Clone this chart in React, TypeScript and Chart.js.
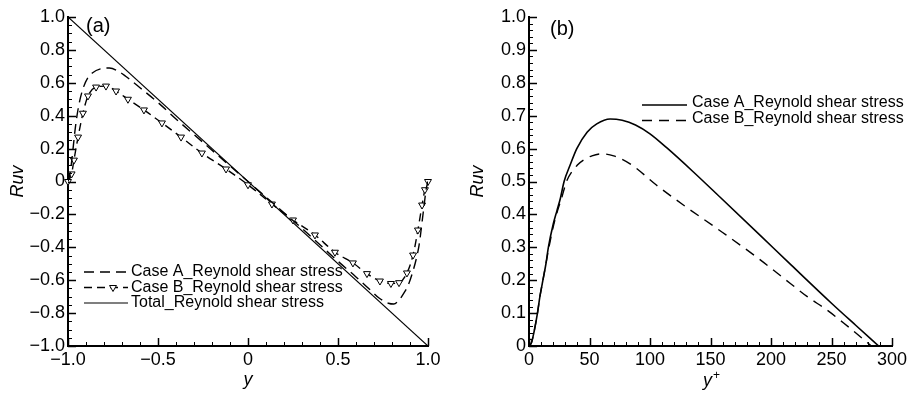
import React, { useEffect, useRef } from "react";
import { Chart, registerables } from "chart.js";

Chart.register(...registerables);

const FONT = "'Liberation Sans', Arial, Helvetica, sans-serif";

// ---------------- Panel (a): Ruv versus y ----------------
const aTotalY = [-1.0, 1.0];
const aTotalRuv = [1.0, -1.0];

const aCaseAY = [
  -1, -0.99, -0.98, -0.97, -0.96, -0.95, -0.935, -0.915, -0.89, -0.865, -0.82, -0.77,
  -0.72, -0.68, -0.6, -0.5, -0.4, -0.3, -0.2, -0.1, 0, 0.1, 0.2, 0.3, 0.4, 0.5, 0.6,
  0.68, 0.73, 0.78, 0.81, 0.84, 0.865, 0.89, 0.915, 0.935, 0.95, 0.96, 0.97, 0.98, 0.99, 1,
];
const aCaseARuv = [
  0, 0.04, 0.12, 0.22, 0.32, 0.4, 0.49, 0.57, 0.63, 0.66, 0.685, 0.69,
  0.67, 0.64, 0.57, 0.48, 0.38, 0.285, 0.19, 0.095, 0, -0.095, -0.19, -0.285, -0.385, -0.485, -0.58,
  -0.66, -0.71, -0.74, -0.745, -0.72, -0.68, -0.63, -0.55, -0.47, -0.39, -0.31, -0.22, -0.13, -0.045, 0,
];

const aCaseBY = [
  -1.0, -0.98, -0.967, -0.944, -0.917, -0.889, -0.844, -0.789, -0.733, -0.667, -0.578,
  -0.478, -0.372, -0.256, -0.122, 0.0, 0.133, 0.25, 0.372, 0.483, 0.583, 0.661, 0.733,
  0.794, 0.839, 0.883, 0.917, 0.944, 0.967, 0.983, 1.0,
];
const aCaseBRuv = [
  0.0, 0.046, 0.13, 0.27, 0.415, 0.52, 0.574, 0.58, 0.55, 0.5, 0.435,
  0.356, 0.27, 0.173, 0.076, -0.02, -0.137, -0.234, -0.325, -0.43, -0.495, -0.56, -0.605,
  -0.62, -0.615, -0.556, -0.447, -0.295, -0.143, -0.05, 0.0,
];

const aXTickValues = [-1, -0.5, 0, 0.5, 1];
const aXTickLabels = ["\u22121.0", "\u22120.5", "0", "0.5", "1.0"];
const aYTickValues = [-1, -0.8, -0.6, -0.4, -0.2, 0, 0.2, 0.4, 0.6, 0.8, 1];
const aYTickLabels = [
  "\u22121.0", "\u22120.8", "\u22120.6", "\u22120.4", "\u22120.2", "0",
  "0.2", "0.4", "0.6", "0.8", "1.0",
];
const aLegendLabels = [
  "Case A_Reynold shear stress",
  "Case B_Reynold shear stress",
  "Total_Reynold shear stress",
];

// ---------------- Panel (b): Ruv versus y+ ----------------
const bCaseAYPlus = [
  0, 2, 4, 7, 9, 11.5, 14, 16, 20, 23, 26, 29, 34, 39.5, 48, 56, 67, 77, 88, 100, 114,
  135, 158, 190, 217, 250, 270, 289,
];
const bCaseARuv = [
  0, 0.01, 0.04, 0.1, 0.15, 0.2, 0.25, 0.3, 0.37, 0.41, 0.45, 0.5, 0.55, 0.6, 0.65,
  0.675, 0.69, 0.686, 0.672, 0.645, 0.602, 0.532, 0.452, 0.34, 0.245, 0.13, 0.063, 0,
];
const bCaseBYPlus = [
  0, 2, 4, 7, 9, 11.5, 14, 16.5, 20.5, 23.5, 27, 31, 40, 45, 52, 60, 70, 85, 105, 127,
  160, 190, 216, 230, 246, 260, 283,
];
const bCaseBRuv = [
  0, 0.01, 0.04, 0.1, 0.15, 0.2, 0.25, 0.3, 0.37, 0.41, 0.45, 0.5, 0.55, 0.565, 0.578,
  0.584, 0.578, 0.55, 0.49, 0.43, 0.345, 0.265, 0.19, 0.15, 0.11, 0.07, 0.0,
];

const bXTickValues = [0, 50, 100, 150, 200, 250, 300];
const bXTickLabels = ["0", "50", "100", "150", "200", "250", "300"];
const bYTickValues = [0, 0.1, 0.2, 0.3, 0.4, 0.5, 0.6, 0.7, 0.8, 0.9, 1.0];
const bYTickLabels = ["0", "0.1", "0.2", "0.3", "0.4", "0.5", "0.6", "0.7", "0.8", "0.9", "1.0"];
const bLegendLabels = ["Case A_Reynold shear stress", "Case B_Reynold shear stress"];

// ---------------- helpers ----------------
const toXY = (xs: number[], ys: number[]) => xs.map((x, i) => ({ x, y: ys[i] }));

function drawScaleTicks(
  ctx: CanvasRenderingContext2D,
  scale: any,
  horizontal: boolean,
  area: any,
  minorStep: number,
  majorStep: number
) {
  const n = Math.round((scale.max - scale.min) / minorStep);
  for (let i = 0; i <= n; i++) {
    const v = scale.min + i * minorStep;
    const r = v / majorStep;
    const major = Math.abs(r - Math.round(r)) < 1e-6;
    const len = major ? 8 : 4;
    ctx.lineWidth = major ? 1.5 : 1;
    const p = Math.round(scale.getPixelForValue(v)) + 0.5;
    ctx.beginPath();
    if (horizontal) {
      ctx.moveTo(p, area.bottom);
      ctx.lineTo(p, area.bottom - len);
    } else {
      ctx.moveTo(area.left, p);
      ctx.lineTo(area.left + len, p);
    }
    ctx.stroke();
  }
}

function drawDownTriangle(ctx: CanvasRenderingContext2D, x: number, y: number, r: number) {
  ctx.save();
  ctx.setLineDash([]);
  ctx.lineWidth = 1;
  ctx.fillStyle = "#fff";
  ctx.strokeStyle = "#000";
  ctx.beginPath();
  ctx.moveTo(x, y + r);
  ctx.lineTo(x - r * 0.866, y - r * 0.5);
  ctx.lineTo(x + r * 0.866, y - r * 0.5);
  ctx.closePath();
  ctx.fill();
  ctx.stroke();
  ctx.restore();
}

const overlayPlugin = {
  id: "overlay",
  afterDraw(chart: any, _args: any, opts: any) {
    const ctx: CanvasRenderingContext2D = chart.ctx;
    const area = chart.chartArea;
    ctx.save();
    ctx.strokeStyle = "#000";
    ctx.fillStyle = "#000";
    drawScaleTicks(ctx, chart.scales.x, true, area, opts.xMinor, opts.xMajor);
    drawScaleTicks(ctx, chart.scales.y, false, area, opts.yMinor, opts.yMajor);

    // panel label
    ctx.font = `20px ${FONT}`;
    ctx.textAlign = "left";
    ctx.textBaseline = "middle";
    ctx.fillText(opts.panelLabel, opts.panelX, opts.panelY);

    // legend
    const lg = opts.legend;
    ctx.font = `16px ${FONT}`;
    chart.data.datasets.forEach((ds: any, i: number) => {
      const y = lg.y + i * lg.dy;
      ctx.save();
      ctx.lineWidth = ds.borderWidth;
      ctx.strokeStyle = "#000";
      ctx.setLineDash(ds.borderDash || []);
      ctx.beginPath();
      ctx.moveTo(lg.x0, y + lg.lineOffset);
      ctx.lineTo(lg.x1, y + lg.lineOffset);
      ctx.stroke();
      ctx.restore();
      if (ds.pointRadius > 0) {
        drawDownTriangle(ctx, lg.markerX, y + lg.lineOffset, ds.pointRadius);
      }
      ctx.fillStyle = "#000";
      ctx.textBaseline = "middle";
      ctx.fillText(ds.label, lg.textX, y);
    });

    // custom x title (with superscript)
    if (opts.xTitle) {
      const t = opts.xTitle;
      ctx.font = `italic 18px ${FONT}`;
      ctx.textBaseline = "middle";
      ctx.fillText(t.main, t.x, t.y);
      const w = ctx.measureText(t.main).width;
      ctx.font = `12px ${FONT}`;
      ctx.fillText(t.sup, t.x + w + 1, t.y - 5);
    }
    ctx.restore();
  },
};

function makeScale(
  min: number,
  max: number,
  values: number[],
  labels: string[],
  horizontal: boolean,
  size: number,
  title: any
) {
  return {
    type: "linear",
    min,
    max,
    afterBuildTicks: (s: any) => {
      s.ticks = values.map((v) => ({ value: v }));
    },
    afterFit: (s: any) => {
      if (horizontal) s.height = size;
      else s.width = size;
    },
    ticks: {
      callback: (_v: any, i: number) => labels[i],
      font: { family: FONT, size: 18 },
      color: "#000",
      padding: 3,
      maxRotation: 0,
      minRotation: 0,
      autoSkip: false,
    },
    grid: { display: false, drawTicks: false },
    border: { display: true, color: "#000", width: 2 },
    title,
  };
}

function configA(): any {
  return {
    type: "scatter",
    data: {
      datasets: [
        {
          label: aLegendLabels[0],
          data: toXY(aCaseAY, aCaseARuv),
          showLine: true,
          borderColor: "#000",
          borderWidth: 1.4,
          borderDash: [10, 6],
          pointRadius: 0,
          cubicInterpolationMode: "monotone",
        },
        {
          label: aLegendLabels[1],
          data: toXY(aCaseBY, aCaseBRuv),
          showLine: true,
          borderColor: "#000",
          borderWidth: 1.4,
          borderDash: [8, 5],
          pointStyle: "triangle",
          rotation: 180,
          pointRadius: 4,
          pointBackgroundColor: "#fff",
          pointBorderColor: "#000",
          pointBorderWidth: 1,
          cubicInterpolationMode: "monotone",
          clip: false,
        },
        {
          label: aLegendLabels[2],
          data: toXY(aTotalY, aTotalRuv),
          showLine: true,
          borderColor: "#000",
          borderWidth: 1.2,
          pointRadius: 0,
        },
      ],
    },
    options: {
      responsive: false,
      animation: false,
      devicePixelRatio: 1,
      events: [],
      layout: { padding: { left: 0, right: 27, top: 17, bottom: 0 } },
      plugins: {
        legend: { display: false },
        tooltip: { enabled: false },
        overlay: {
          xMinor: 0.1,
          xMajor: 0.5,
          yMinor: 0.05,
          yMajor: 0.2,
          panelLabel: "(a)",
          panelX: 86,
          panelY: 26,
          legend: { x0: 84, x1: 128, markerX: 113, textX: 131, y: 272, dy: 15.5, lineOffset: 0 },
        },
      },
      scales: {
        x: makeScale(-1, 1, aXTickValues, aXTickLabels, true, 48, {
          display: true,
          text: "y",
          color: "#000",
          font: { family: FONT, size: 18, style: "italic" },
          padding: { top: 0, bottom: 3 },
        }),
        y: makeScale(-1, 1, aYTickValues, aYTickLabels, false, 68, {
          display: true,
          text: "Ruv",
          color: "#000",
          font: { family: FONT, size: 18, style: "italic" },
          padding: { top: 7, bottom: 0 },
        }),
      },
    },
    plugins: [overlayPlugin],
  };
}

function configB(): any {
  return {
    type: "scatter",
    data: {
      datasets: [
        {
          label: bLegendLabels[0],
          data: toXY(bCaseAYPlus, bCaseARuv),
          showLine: true,
          borderColor: "#000",
          borderWidth: 1.6,
          pointRadius: 0,
          cubicInterpolationMode: "monotone",
        },
        {
          label: bLegendLabels[1],
          data: toXY(bCaseBYPlus, bCaseBRuv),
          showLine: true,
          borderColor: "#000",
          borderWidth: 1.4,
          borderDash: [10, 7],
          pointRadius: 0,
          cubicInterpolationMode: "monotone",
        },
      ],
    },
    options: {
      responsive: false,
      animation: false,
      devicePixelRatio: 1,
      events: [],
      layout: { padding: { left: 0, right: 43, top: 17, bottom: 0 } },
      plugins: {
        legend: { display: false },
        tooltip: { enabled: false },
        overlay: {
          xMinor: 10,
          xMajor: 50,
          yMinor: 0.02,
          yMajor: 0.1,
          panelLabel: "(b)",
          panelX: 95,
          panelY: 29,
          legend: { x0: 187, x1: 232, markerX: 0, textX: 237, y: 103, dy: 15.5, lineOffset: 2 },
          xTitle: { main: "y", sup: "+", x: 248, y: 381 },
        },
      },
      scales: {
        x: makeScale(0, 300, bXTickValues, bXTickLabels, true, 48, { display: false }),
        y: makeScale(0, 1, bYTickValues, bYTickLabels, false, 74, {
          display: true,
          text: "Ruv",
          color: "#000",
          font: { family: FONT, size: 18, style: "italic" },
          padding: { top: 12, bottom: 0 },
        }),
      },
    },
    plugins: [overlayPlugin],
  };
}

function Panel({ makeConfig, left, width }: { makeConfig: () => any; left: number; width: number }) {
  const ref = useRef<HTMLCanvasElement>(null);
  useEffect(() => {
    const chart = new Chart(ref.current as HTMLCanvasElement, makeConfig());
    return () => chart.destroy();
  }, []);
  return (
    <canvas
      ref={ref}
      width={width}
      height={394}
      style={{ position: "absolute", left, top: 0, width, height: 394, display: "block" }}
    />
  );
}

export default function App() {
  return (
    <div
      style={{
        position: "fixed",
        left: 0,
        top: 0,
        width: 909,
        height: 394,
        background: "#fff",
        overflow: "hidden",
      }}
    >
      <Panel makeConfig={configA} left={0} width={455} />
      <Panel makeConfig={configB} left={455} width={480} />
    </div>
  );
}
